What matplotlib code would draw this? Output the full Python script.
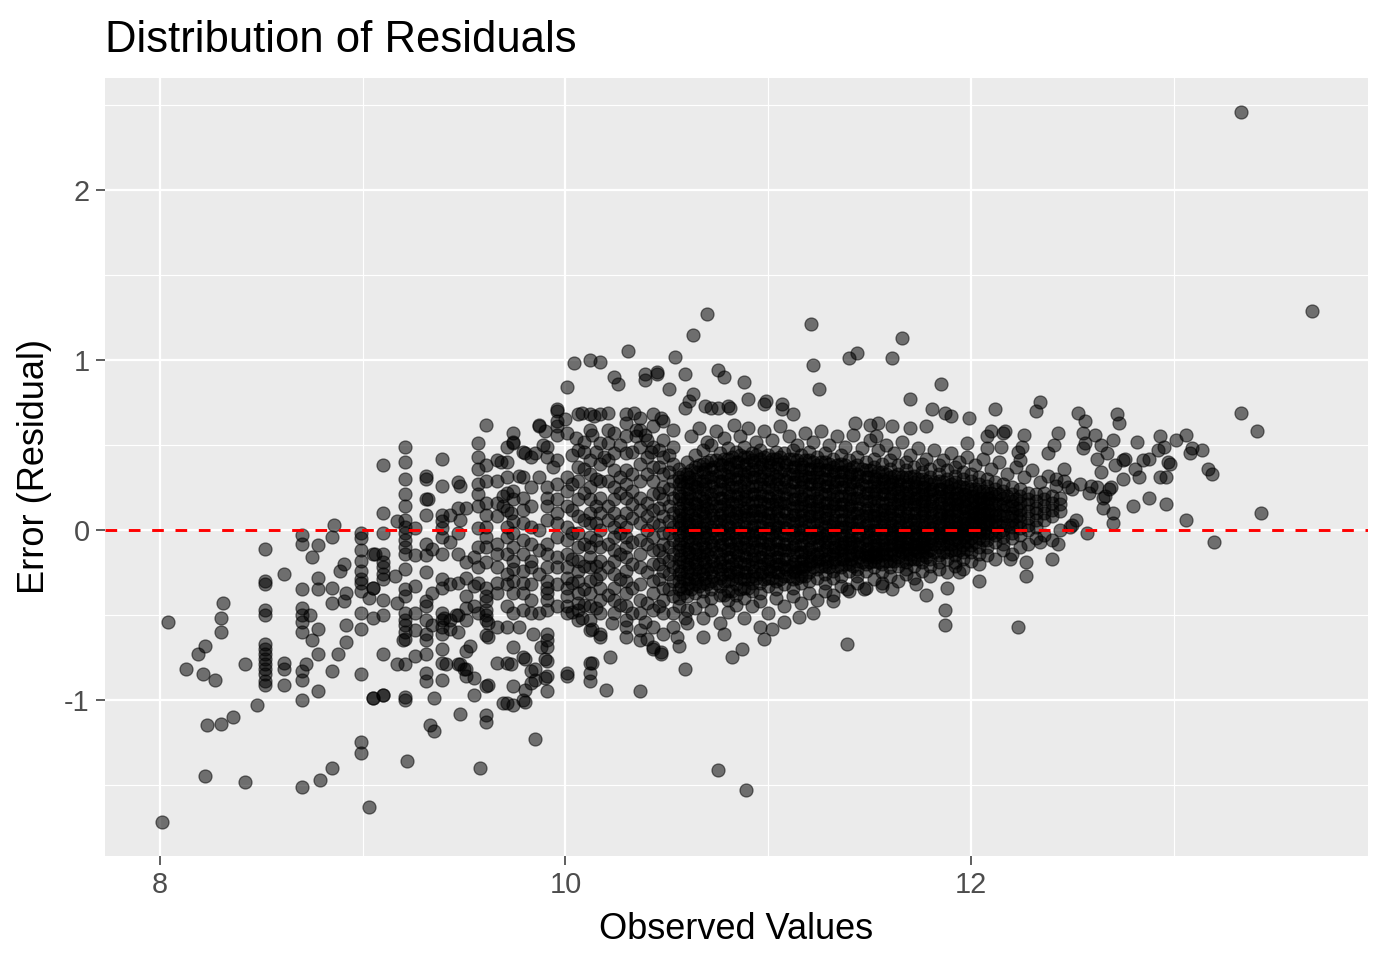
import matplotlib.pyplot as plt

plt.rcParams['font.family'] = ['Liberation Sans', 'DejaVu Sans']
plt.rcParams['axes.unicode_minus'] = False

# residuals stacked at repeated observed values: (observed, [residuals])
stacks = [
    (8.52, [-0.11, -0.30, -0.32, -0.47, -0.50, -0.67, -0.70, -0.73, -0.76, -0.79, -0.82, -0.85, -0.89, -0.91]),
    (8.61, [-0.26, -0.78, -0.82, -0.91]),
    (8.70, [-0.03, -0.08, -0.35, -0.46, -0.50, -0.54, -0.60, -0.83, -0.88, -1.00, -1.51]),
    (8.78, [-0.09, -0.28, -0.35, -0.58, -0.73, -0.95]),
    (8.85, [-0.04, -0.34, -0.43, -0.83, -1.40]),
    (8.99, [-0.02, -0.05, -0.12, -0.18, -0.24, -0.29, -0.31, -0.36, -0.49, -0.58, -0.85, -1.25, -1.31]),
    (9.05, [-0.14, -0.34, -0.52, -0.99]),
    (9.10, [0.38, 0.10, -0.02, -0.14, -0.19, -0.22, -0.26, -0.29, -0.41, -0.50, -0.73, -0.97]),
    (9.21, [0.49, 0.40, 0.30, 0.21, 0.14, 0.06, 0.02, -0.02, -0.06, -0.10, -0.14, -0.23, -0.35, -0.39,
            -0.49, -0.53, -0.56, -0.60, -0.64, -0.79, -0.98, -1.00]),
    (9.26, [0.01, -0.15, -0.33, -0.49, -0.59, -0.74]),
    (9.31, [0.32, 0.30, 0.18, 0.09, -0.08, -0.15, -0.25, -0.42, -0.45, -0.53, -0.61, -0.65, -0.73, -0.84, -0.89]),
    (9.39, [0.42, 0.26, 0.09, 0.05, 0.01, -0.04, -0.14, -0.29, -0.34, -0.49, -0.53, -0.57, -0.61, -0.70, -0.78, -0.88]),
    (9.47, [0.28, 0.13, -0.02, -0.14, -0.31, -0.50, -0.60, -0.79]),
    (9.51, [0.13, -0.19, -0.28, -0.39, -0.46, -0.53, -0.71, -0.82, -0.86]),
    (9.57, [0.51, 0.43, 0.36, 0.27, 0.21, 0.14, 0.01, -0.10, -0.22, -0.31, -0.49]),
    (9.61, [0.62, 0.38, 0.29, 0.16, 0.09, 0.02, -0.04, -0.10, -0.19, -0.34, -0.39, -0.42, -0.47, -0.50,
            -0.53, -0.62, -0.92, -1.09, -1.13]),
    (9.66, [0.41, 0.29, 0.16, 0.08, -0.08, -0.14, -0.22, -0.31, -0.37, -0.57, -0.78]),
    (9.71, [0.49, 0.40, 0.31, 0.22, 0.12, 0.02, -0.04, -0.14, -0.26, -0.32, -0.45, -0.57, -0.78, -1.02]),
    (9.74, [0.57, 0.52, 0.23, 0.18, -0.02, -0.10, -0.18, -0.23, -0.30, -0.37, -0.49, -0.69, -0.92]),
    (9.79, [0.46, 0.31, 0.19, 0.12, 0.04, -0.06, -0.14, -0.24, -0.31, -0.37, -0.47, -0.75, -1.00]),
    (9.83, [0.43, 0.25, 0.14, 0.02, -0.08, -0.18, -0.22, -0.32, -0.41, -0.49, -0.83, -0.90]),
    (9.87, [0.61, 0.31, 0.00, -0.12, -0.26, -0.49]),
    (9.91, [0.49, 0.43, 0.25, 0.19, 0.14, 0.06, -0.08, -0.14, -0.22, -0.30, -0.34, -0.37, -0.41, -0.47,
            -0.61, -0.65, -0.69, -0.77, -0.86, -0.95]),
    (9.96, [0.70, 0.64, 0.56, 0.41, 0.27, 0.18, 0.10, 0.04, -0.04, -0.16, -0.22, -0.32, -0.45]),
    (10.01, [0.84, 0.57, 0.31, 0.23, 0.14, 0.02, -0.06, -0.14, -0.22, -0.28, -0.34, -0.39, -0.45, -0.49, -0.84]),
    (10.03, [0.44, 0.27, 0.12, -0.02, -0.17, -0.31]),
    (10.06, [0.68, 0.47, 0.37, 0.29, 0.18, 0.08, -0.02, -0.10, -0.18, -0.24, -0.30, -0.37, -0.43, -0.47, -0.53]),
    (10.09, [0.52, 0.36, 0.22, 0.06, -0.08, -0.21, -0.35, -0.44]),
    (10.12, [0.68, 0.59, 0.41, 0.33, 0.25, 0.18, 0.10, 0.04, -0.04, -0.10, -0.16, -0.22, -0.30, -0.37,
             -0.45, -0.53, -0.59, -0.78, -0.84, -0.89]),
    (10.15, [0.46, 0.30, 0.14, 0.04, -0.06, -0.21, -0.29, -0.46]),
    (10.17, [0.68, 0.51, 0.39, 0.29, 0.19, 0.10, 0.00, -0.10, -0.18, -0.26, -0.34, -0.41, -0.49, -0.61]),
    (10.21, [0.59, 0.41, 0.29, 0.14, 0.06, -0.08, -0.22, -0.38]),
    (10.24, [0.57, 0.45, 0.35, 0.25, 0.18, 0.10, 0.02, -0.04, -0.12, -0.18, -0.26, -0.34, -0.41, -0.49]),
    (10.27, [0.50, 0.31, 0.22, 0.05, -0.02, -0.14, -0.29, -0.44]),
    (10.30, [0.68, 0.63, 0.55, 0.45, 0.35, 0.27, 0.19, 0.10, 0.02, -0.04, -0.10, -0.16, -0.24, -0.30,
             -0.37, -0.45, -0.53, -0.63]),
    (10.33, [0.46, 0.33, 0.23, 0.15, 0.07, -0.07, -0.20, -0.34, -0.49]),
    (10.37, [0.66, 0.59, 0.49, 0.39, 0.29, 0.19, 0.12, 0.04, -0.06, -0.14, -0.22, -0.32, -0.41, -0.49, -0.59, -0.65]),
    (10.40, [0.53, 0.43, 0.33, 0.16, 0.08, 0.00, -0.08, -0.25, -0.43]),
    (10.43, [0.68, 0.61, 0.49, 0.37, 0.29, 0.21, 0.12, 0.04, -0.04, -0.12, -0.20, -0.30, -0.37, -0.47, -0.57, -0.69]),
    (10.46, [0.47, 0.37, 0.22, 0.13, 0.03, -0.12, -0.20, -0.29, -0.45]),
    (10.48, [0.64, 0.53, 0.43, 0.33, 0.25, 0.18, 0.08, -0.02, -0.08, -0.16, -0.24, -0.34, -0.41, -0.49, -0.61]),
    (10.51, [0.44, 0.34, 0.24, 0.14, 0.05, -0.02, -0.10, -0.18, -0.26, -0.35]),
    (10.53, [0.59, 0.49, 0.39, 0.29, 0.19, 0.10, 0.02, -0.06, -0.14, -0.22, -0.30, -0.39, -0.49, -0.57]),
]

# the dense centre of the cloud, column by column
core = [
    (10.56, [0.36, 0.31, 0.27, 0.22, 0.18, 0.13, 0.09, 0.05, 0.01, -0.03, -0.08, -0.12, -0.17, -0.21, -0.26, -0.30, -0.35, -0.40, -0.45]),
    (10.60, [0.40, 0.33, 0.28, 0.24, 0.19, 0.15, 0.10, 0.06, 0.02, -0.02, -0.07, -0.11, -0.16, -0.20, -0.25, -0.29, -0.34, -0.39, -0.47]),
    (10.64, [0.44, 0.37, 0.30, 0.26, 0.21, 0.16, 0.12, 0.07, 0.03, -0.01, -0.05, -0.10, -0.14, -0.19, -0.23, -0.28, -0.32, -0.37]),
    (10.68, [0.47, 0.39, 0.34, 0.29, 0.24, 0.19, 0.14, 0.10, 0.05, 0.01, -0.04, -0.08, -0.13, -0.17, -0.22, -0.26, -0.31, -0.36, -0.42]),
    (10.72, [0.50, 0.41, 0.36, 0.31, 0.26, 0.21, 0.16, 0.12, 0.07, 0.02, -0.02, -0.07, -0.11, -0.16, -0.21, -0.25, -0.30, -0.35, -0.40]),
    (10.76, [0.45, 0.39, 0.34, 0.29, 0.24, 0.19, 0.14, 0.09, 0.05, 0.00, -0.05, -0.09, -0.14, -0.19, -0.23, -0.28, -0.33, -0.38]),
    (10.80, [0.48, 0.42, 0.37, 0.32, 0.27, 0.22, 0.17, 0.12, 0.08, 0.03, -0.02, -0.06, -0.11, -0.16, -0.21, -0.26, -0.30, -0.36, -0.41]),
    (10.84, [0.46, 0.40, 0.35, 0.30, 0.25, 0.20, 0.15, 0.10, 0.06, 0.01, -0.04, -0.08, -0.13, -0.18, -0.23, -0.27, -0.32, -0.38]),
    (10.88, [0.49, 0.43, 0.38, 0.33, 0.28, 0.23, 0.18, 0.13, 0.09, 0.04, -0.01, -0.05, -0.10, -0.15, -0.20, -0.25, -0.29, -0.34, -0.40]),
    (10.92, [0.45, 0.41, 0.36, 0.31, 0.26, 0.21, 0.16, 0.11, 0.07, 0.02, -0.03, -0.07, -0.12, -0.17, -0.22, -0.27, -0.31, -0.36]),
    (10.96, [0.47, 0.42, 0.37, 0.32, 0.27, 0.22, 0.17, 0.12, 0.08, 0.03, -0.02, -0.06, -0.11, -0.16, -0.21, -0.26, -0.31, -0.37]),
    (11.00, [0.44, 0.40, 0.35, 0.30, 0.25, 0.20, 0.15, 0.10, 0.06, 0.01, -0.04, -0.08, -0.13, -0.18, -0.23, -0.28, -0.33]),
    (11.04, [0.46, 0.42, 0.37, 0.32, 0.27, 0.22, 0.17, 0.13, 0.08, 0.03, -0.01, -0.06, -0.11, -0.16, -0.20, -0.25, -0.30, -0.35]),
    (11.08, [0.45, 0.40, 0.35, 0.30, 0.25, 0.21, 0.16, 0.11, 0.06, 0.02, -0.03, -0.08, -0.12, -0.17, -0.22, -0.27, -0.32]),
    (11.12, [0.47, 0.42, 0.37, 0.33, 0.28, 0.23, 0.18, 0.13, 0.09, 0.04, -0.01, -0.05, -0.10, -0.15, -0.20, -0.25, -0.29, -0.34]),
    (11.16, [0.44, 0.39, 0.35, 0.30, 0.25, 0.20, 0.15, 0.11, 0.06, 0.01, -0.03, -0.08, -0.13, -0.18, -0.22, -0.27, -0.31]),
    (11.20, [0.46, 0.41, 0.36, 0.31, 0.27, 0.22, 0.17, 0.12, 0.08, 0.03, -0.02, -0.06, -0.11, -0.16, -0.20, -0.25, -0.30]),
    (11.24, [0.43, 0.38, 0.34, 0.29, 0.24, 0.19, 0.14, 0.10, 0.05, 0.00, -0.04, -0.09, -0.14, -0.18, -0.23, -0.28]),
    (11.28, [0.45, 0.40, 0.35, 0.30, 0.26, 0.21, 0.16, 0.11, 0.07, 0.02, -0.03, -0.07, -0.12, -0.17, -0.21, -0.26, -0.31]),
    (11.32, [0.42, 0.37, 0.33, 0.28, 0.23, 0.18, 0.14, 0.09, 0.04, 0.00, -0.05, -0.10, -0.14, -0.19, -0.24, -0.28]),
    (11.36, [0.44, 0.39, 0.34, 0.30, 0.25, 0.20, 0.15, 0.11, 0.06, 0.02, -0.03, -0.08, -0.12, -0.17, -0.22, -0.27]),
    (11.40, [0.41, 0.36, 0.32, 0.27, 0.22, 0.18, 0.13, 0.08, 0.04, -0.01, -0.06, -0.10, -0.15, -0.20, -0.24]),
    (11.44, [0.43, 0.38, 0.33, 0.29, 0.24, 0.19, 0.15, 0.10, 0.05, 0.01, -0.04, -0.08, -0.13, -0.18, -0.23, -0.27]),
    (11.48, [0.40, 0.35, 0.31, 0.26, 0.22, 0.17, 0.12, 0.08, 0.03, -0.01, -0.06, -0.11, -0.15, -0.20, -0.24]),
    (11.52, [0.42, 0.37, 0.32, 0.28, 0.23, 0.19, 0.14, 0.09, 0.05, 0.00, -0.04, -0.09, -0.13, -0.18, -0.22]),
    (11.56, [0.39, 0.34, 0.30, 0.25, 0.21, 0.16, 0.12, 0.07, 0.03, -0.02, -0.06, -0.11, -0.15, -0.20, -0.25]),
    (11.60, [0.41, 0.36, 0.31, 0.27, 0.22, 0.18, 0.13, 0.09, 0.04, 0.00, -0.05, -0.09, -0.14, -0.18, -0.22]),
    (11.64, [0.38, 0.33, 0.29, 0.24, 0.20, 0.15, 0.11, 0.06, 0.02, -0.03, -0.07, -0.12, -0.16, -0.21]),
    (11.68, [0.40, 0.35, 0.31, 0.26, 0.22, 0.17, 0.13, 0.08, 0.04, -0.01, -0.05, -0.10, -0.14, -0.19, -0.23]),
    (11.72, [0.37, 0.32, 0.28, 0.24, 0.19, 0.15, 0.10, 0.06, 0.01, -0.03, -0.08, -0.12, -0.17, -0.21]),
    (11.76, [0.39, 0.34, 0.30, 0.25, 0.21, 0.17, 0.12, 0.08, 0.03, -0.01, -0.06, -0.10, -0.15, -0.19]),
    (11.80, [0.36, 0.31, 0.27, 0.23, 0.18, 0.14, 0.10, 0.05, 0.01, -0.04, -0.08, -0.12, -0.17, -0.21]),
    (11.84, [0.38, 0.33, 0.29, 0.24, 0.20, 0.16, 0.11, 0.07, 0.03, -0.02, -0.06, -0.10, -0.15, -0.19]),
    (11.88, [0.35, 0.30, 0.26, 0.22, 0.18, 0.13, 0.09, 0.05, 0.00, -0.04, -0.08, -0.13, -0.17]),
    (11.92, [0.37, 0.32, 0.28, 0.24, 0.19, 0.15, 0.11, 0.06, 0.02, -0.02, -0.06, -0.11, -0.15, -0.19]),
    (11.96, [0.34, 0.30, 0.25, 0.21, 0.17, 0.13, 0.08, 0.04, 0.00, -0.04, -0.09, -0.13, -0.17]),
    (12.00, [0.33, 0.29, 0.24, 0.20, 0.16, 0.12, 0.08, 0.04, -0.01, -0.05, -0.09, -0.13]),
    (12.04, [0.31, 0.27, 0.23, 0.19, 0.15, 0.11, 0.07, 0.03, -0.01, -0.05, -0.10, -0.14]),
    (12.08, [0.30, 0.26, 0.22, 0.18, 0.14, 0.10, 0.06, 0.02, -0.02, -0.06, -0.10]),
    (12.12, [0.28, 0.24, 0.20, 0.16, 0.12, 0.08, 0.05, 0.01, -0.03, -0.07]),
    (12.16, [0.27, 0.23, 0.19, 0.15, 0.12, 0.08, 0.04, 0.00, -0.04, -0.08]),
    (12.20, [0.25, 0.21, 0.17, 0.14, 0.10, 0.06, 0.02, -0.02, -0.05]),
    (12.24, [0.24, 0.20, 0.16, 0.12, 0.09, 0.05, 0.01, -0.03]),
    (12.28, [0.22, 0.18, 0.15, 0.11, 0.07, 0.03, 0.00]),
    (12.32, [0.21, 0.17, 0.13, 0.10, 0.06, 0.02]),
    (12.36, [0.22, 0.18, 0.14, 0.10, 0.06]),
    (12.40, [0.20, 0.16, 0.12, 0.08]),
    (12.44, [0.19, 0.15, 0.11]),
]

# more points packed between the core columns
core_inner = [
    (10.58, [0.33, 0.25, 0.16, 0.07, -0.01, -0.10, -0.19, -0.28, -0.37]),
    (10.62, [0.35, 0.27, 0.18, 0.09, 0.00, -0.08, -0.17, -0.26, -0.35]),
    (10.66, [0.38, 0.29, 0.20, 0.11, 0.02, -0.06, -0.15, -0.24, -0.33]),
    (10.70, [0.40, 0.31, 0.22, 0.13, 0.04, -0.05, -0.14, -0.23, -0.32]),
    (10.74, [0.41, 0.32, 0.23, 0.14, 0.05, -0.04, -0.13, -0.22, -0.31]),
    (10.78, [0.42, 0.33, 0.24, 0.15, 0.06, -0.03, -0.12, -0.21, -0.30, -0.38]),
    (10.82, [0.43, 0.34, 0.25, 0.16, 0.07, -0.02, -0.11, -0.20, -0.29, -0.36]),
    (10.86, [0.44, 0.35, 0.26, 0.17, 0.08, -0.01, -0.10, -0.19, -0.28, -0.35]),
    (10.90, [0.43, 0.34, 0.25, 0.16, 0.07, -0.02, -0.11, -0.20, -0.29, -0.34]),
    (10.94, [0.44, 0.35, 0.26, 0.17, 0.08, -0.01, -0.10, -0.19, -0.28]),
    (10.98, [0.43, 0.34, 0.25, 0.16, 0.07, -0.02, -0.11, -0.20, -0.29]),
    (11.02, [0.42, 0.33, 0.24, 0.15, 0.06, -0.03, -0.12, -0.21, -0.28]),
    (11.06, [0.43, 0.34, 0.25, 0.16, 0.07, -0.02, -0.11, -0.20, -0.29]),
    (11.10, [0.42, 0.33, 0.24, 0.15, 0.06, -0.03, -0.12, -0.21, -0.27]),
    (11.14, [0.41, 0.32, 0.23, 0.14, 0.05, -0.04, -0.13, -0.22, -0.28]),
    (11.18, [0.41, 0.32, 0.23, 0.14, 0.05, -0.04, -0.13, -0.21, -0.27]),
    (11.22, [0.40, 0.31, 0.22, 0.13, 0.04, -0.05, -0.14, -0.22]),
    (11.26, [0.40, 0.31, 0.22, 0.13, 0.04, -0.05, -0.13, -0.21]),
    (11.30, [0.39, 0.30, 0.21, 0.12, 0.03, -0.06, -0.14, -0.22]),
    (11.34, [0.38, 0.29, 0.20, 0.11, 0.02, -0.06, -0.13, -0.21]),
    (11.38, [0.38, 0.29, 0.20, 0.11, 0.02, -0.07, -0.14, -0.20]),
    (11.42, [0.37, 0.28, 0.19, 0.10, 0.01, -0.07, -0.14, -0.21]),
    (11.46, [0.36, 0.27, 0.18, 0.09, 0.01, -0.07, -0.14, -0.19]),
    (11.50, [0.35, 0.26, 0.17, 0.09, 0.00, -0.07, -0.15, -0.19]),
    (11.54, [0.34, 0.26, 0.17, 0.08, 0.00, -0.08, -0.14, -0.19]),
    (11.58, [0.33, 0.25, 0.16, 0.08, 0.00, -0.08, -0.14, -0.18]),
    (11.62, [0.32, 0.24, 0.16, 0.07, -0.01, -0.08, -0.14, -0.18]),
    (11.66, [0.31, 0.23, 0.15, 0.07, -0.01, -0.08, -0.13, -0.18]),
    (11.70, [0.31, 0.23, 0.15, 0.06, -0.01, -0.08, -0.14, -0.17]),
    (11.74, [0.30, 0.22, 0.14, 0.06, -0.02, -0.08, -0.13, -0.17]),
    (11.78, [0.29, 0.21, 0.14, 0.06, -0.02, -0.08, -0.13, -0.16]),
    (11.82, [0.28, 0.21, 0.13, 0.05, -0.02, -0.08, -0.13]),
    (11.86, [0.28, 0.20, 0.13, 0.05, -0.02, -0.08, -0.13]),
    (11.90, [0.27, 0.19, 0.12, 0.05, -0.02, -0.08, -0.12]),
    (11.94, [0.26, 0.19, 0.12, 0.04, -0.02, -0.07, -0.12]),
    (11.98, [0.25, 0.18, 0.11, 0.04, -0.02, -0.07, -0.11]),
    (12.02, [0.24, 0.17, 0.10, 0.04, -0.02, -0.07]),
    (12.06, [0.23, 0.16, 0.10, 0.04, -0.02, -0.06]),
    (12.10, [0.22, 0.16, 0.09, 0.03, -0.02]),
    (12.14, [0.21, 0.15, 0.09, 0.03, -0.01]),
    (12.18, [0.20, 0.14, 0.08, 0.03]),
    (12.22, [0.18, 0.13, 0.08, 0.03]),
]

# the saturated middle of the core
core_deep = [
    (10.57, [0.29, 0.20, 0.11, 0.03, -0.06, -0.15, -0.24, -0.33]),
    (10.61, [0.31, 0.22, 0.13, 0.04, -0.04, -0.13, -0.22, -0.31]),
    (10.65, [0.34, 0.25, 0.15, 0.06, -0.02, -0.11, -0.20, -0.29]),
    (10.69, [0.36, 0.27, 0.17, 0.08, -0.01, -0.10, -0.19, -0.28]),
    (10.73, [0.37, 0.28, 0.18, 0.09, 0.00, -0.09, -0.18, -0.27]),
    (10.77, [0.38, 0.29, 0.19, 0.10, 0.01, -0.08, -0.17, -0.26]),
    (10.81, [0.39, 0.30, 0.20, 0.11, 0.02, -0.07, -0.16, -0.25]),
    (10.85, [0.40, 0.31, 0.21, 0.12, 0.03, -0.06, -0.15, -0.24]),
    (10.89, [0.39, 0.30, 0.20, 0.11, 0.02, -0.07, -0.16, -0.25]),
    (10.93, [0.40, 0.31, 0.21, 0.12, 0.03, -0.06, -0.15, -0.24]),
    (10.97, [0.39, 0.30, 0.20, 0.11, 0.02, -0.07, -0.16, -0.25]),
    (11.01, [0.38, 0.29, 0.19, 0.10, 0.01, -0.08, -0.17, -0.24]),
    (11.05, [0.39, 0.30, 0.20, 0.11, 0.02, -0.07, -0.16, -0.25]),
    (11.09, [0.38, 0.29, 0.19, 0.10, 0.01, -0.08, -0.17, -0.23]),
    (11.13, [0.37, 0.28, 0.18, 0.09, 0.00, -0.09, -0.18, -0.24]),
    (11.17, [0.37, 0.28, 0.18, 0.09, 0.00, -0.09, -0.17, -0.23]),
    (11.21, [0.36, 0.27, 0.17, 0.08, -0.01, -0.10, -0.18]),
    (11.25, [0.36, 0.27, 0.17, 0.08, -0.01, -0.09, -0.17]),
    (11.29, [0.35, 0.26, 0.16, 0.07, -0.02, -0.10, -0.18]),
    (11.33, [0.34, 0.25, 0.15, 0.06, -0.02, -0.10, -0.17]),
    (11.37, [0.34, 0.25, 0.15, 0.06, -0.03, -0.10, -0.17]),
    (11.41, [0.33, 0.24, 0.14, 0.05, -0.03, -0.10, -0.17]),
    (11.45, [0.32, 0.23, 0.13, 0.05, -0.03, -0.10, -0.16]),
    (11.49, [0.31, 0.22, 0.13, 0.04, -0.04, -0.11, -0.16]),
    (11.53, [0.30, 0.22, 0.12, 0.04, -0.04, -0.11, -0.16]),
    (11.57, [0.29, 0.21, 0.12, 0.04, -0.04, -0.11]),
    (11.61, [0.28, 0.20, 0.11, 0.03, -0.04, -0.11]),
    (11.65, [0.27, 0.19, 0.11, 0.03, -0.05, -0.10]),
    (11.69, [0.27, 0.19, 0.10, 0.02, -0.05, -0.11]),
    (11.73, [0.26, 0.18, 0.10, 0.02, -0.05, -0.10]),
    (11.77, [0.25, 0.17, 0.10, 0.02, -0.05, -0.10]),
    (11.81, [0.24, 0.17, 0.09, 0.01, -0.05]),
    (11.85, [0.24, 0.16, 0.09, 0.01, -0.05]),
    (11.89, [0.23, 0.15, 0.08, 0.01, -0.05]),
    (11.93, [0.22, 0.15, 0.08, 0.01, -0.04]),
    (11.97, [0.21, 0.14, 0.07, 0.01, -0.04]),
    (12.01, [0.20, 0.13, 0.07, 0.01]),
    (12.05, [0.19, 0.13, 0.07, 0.01]),
    (12.09, [0.19, 0.12, 0.06]),
]

# single points away from the stacks and the core
loose_left = [
    (8.01, -1.72), (8.04, -0.54), (8.13, -0.82), (8.21, -0.85), (8.19, -0.73), (8.22, -0.68),
    (8.22, -1.45), (8.23, -1.15), (8.30, -1.14), (8.36, -1.10), (8.27, -0.88), (8.30, -0.52),
    (8.30, -0.60), (8.31, -0.43), (8.42, -0.79), (8.42, -1.48), (8.48, -1.03), (8.72, -0.79),
    (8.74, -0.50), (8.75, -0.16), (8.75, -0.65), (8.79, -1.47), (8.86, 0.03), (8.88, -0.73),
    (8.89, -0.24), (8.91, -0.20), (8.91, -0.42), (8.92, -0.37), (8.92, -0.56), (8.92, -0.66),
    (9.03, -1.63), (9.03, -0.40), (9.05, -0.34), (9.06, -0.14), (9.17, -0.43), (9.17, -0.79),
    (9.17, 0.05), (9.16, -0.27), (9.22, -1.36), (9.34, -0.11), (9.34, -0.37), (9.34, -0.56),
    (9.43, 0.09), (9.43, -0.07), (9.43, -0.32), (9.43, -0.53), (9.43, -0.58), (9.48, 0.26),
    (9.48, 0.06), (9.32, 0.18), (9.05, -0.99), (9.10, -0.97), (9.35, -0.99), (9.55, -0.97),
    (9.33, -1.15), (9.35, -1.18), (9.48, -1.08), (9.58, -1.40), (9.85, -1.23), (9.62, -0.91),
    (9.48, -0.79), (9.50, -0.82), (9.41, -0.79), (9.20, -0.65), (9.46, -0.50), (9.40, -0.52),
    (9.53, -0.68), (9.55, -0.16), (9.55, -0.33), (9.55, -0.45), (9.55, -0.87),
]

loose_mid = [
    (9.69, 0.20), (9.69, 0.14), (9.73, 0.10), (9.74, 0.05), (9.68, 0.40), (9.74, 0.51),
    (9.77, 0.32), (9.80, 0.45), (9.85, 0.45), (9.87, 0.62), (9.90, 0.58), (9.89, 0.50),
    (9.96, 0.61), (9.96, 0.71), (10.00, 0.65), (9.94, 0.37), (10.04, 0.98), (10.12, 1.00),
    (10.17, 0.99), (10.31, 1.05), (10.24, 0.90), (10.26, 0.86), (10.39, 0.92), (10.39, 0.88),
    (10.45, 0.92), (10.51, 0.83), (10.54, 1.02), (10.08, 0.69), (10.14, 0.67), (10.21, 0.69),
    (10.34, 0.69), (10.47, 0.66), (10.35, 0.59), (10.35, 0.55), (10.39, 0.56), (10.21, 0.51),
    (10.13, 0.56), (10.05, 0.54), (10.09, 0.46), (10.19, 0.43), (10.42, 0.46), (9.69, -1.02),
    (9.74, -1.03), (9.80, -1.01), (9.80, -0.94), (9.90, -0.87), (9.85, -0.82), (9.85, -0.88),
    (10.01, -0.86), (10.13, -0.78), (10.20, -0.94), (10.22, -0.75), (10.37, -0.95), (10.59, -0.82),
    (9.73, -0.79), (9.80, -0.76), (9.90, -0.76), (9.84, -0.61), (9.88, -0.69), (9.62, -0.63),
    (9.62, -0.55), (9.77, -0.57), (10.03, -0.48), (10.08, -0.52), (10.13, -0.58), (10.17, -0.63),
    (10.23, -0.55), (10.30, -0.57), (10.39, -0.54), (10.40, -0.64), (10.47, -0.73), (10.55, -0.63),
    (10.59, -0.52), (10.43, -0.70),
]

loose_right = [
    (10.70, 1.27), (10.63, 1.15), (11.21, 1.21), (11.22, 0.97), (11.25, 0.83), (11.40, 1.01),
    (11.44, 1.04), (11.66, 1.13), (11.61, 1.01), (11.85, 0.86), (11.70, 0.77), (11.81, 0.71),
    (11.87, 0.69), (11.90, 0.67), (11.99, 0.66), (12.12, 0.71), (10.59, 0.92), (10.45, 0.93),
    (10.75, 0.94), (10.78, 0.90), (10.88, 0.87), (10.90, 0.77), (10.63, 0.80), (10.61, 0.76),
    (10.59, 0.72), (10.69, 0.73), (10.72, 0.72), (10.75, 0.72), (10.80, 0.73), (10.81, 0.72),
    (10.99, 0.76), (10.98, 0.74), (11.07, 0.74), (11.07, 0.71), (11.12, 0.68), (11.43, 0.63),
    (11.50, 0.62), (11.54, 0.63), (11.61, 0.61), (11.70, 0.60), (11.53, 0.55), (11.78, 0.61),
    (11.98, 0.51), (12.08, 0.55), (12.10, 0.58), (12.16, 0.57), (12.15, 0.49), (12.08, 0.48),
    (12.24, 0.41), (11.39, -0.67), (11.87, -0.47), (11.87, -0.56), (12.04, -0.30), (11.78, -0.38),
    (11.88, -0.34), (11.94, -0.25), (11.73, -0.32), (11.56, -0.33), (11.61, -0.35), (11.47, -0.35),
    (11.39, -0.35), (11.32, -0.42), (11.22, -0.49), (11.15, -0.51), (11.08, -0.54), (11.02, -0.58),
    (10.96, -0.57), (10.98, -0.64), (10.87, -0.70), (10.82, -0.75), (10.78, -0.61), (10.68, -0.63),
    (10.56, -0.68), (10.47, -0.72), (10.75, -1.41), (10.89, -1.53),
    (13.33, 2.46), (13.68, 1.29), (13.33, 0.69), (13.41, 0.58), (13.43, 0.10), (13.20, -0.07),
    (13.17, 0.36), (13.19, 0.33), (13.06, 0.06), (13.06, 0.56), (13.01, 0.53), (13.09, 0.48),
    (13.08, 0.45), (13.14, 0.47), (12.93, 0.55), (12.95, 0.49), (12.92, 0.47), (12.97, 0.40),
    (12.98, 0.39), (12.88, 0.42), (12.85, 0.41), (12.93, 0.31), (12.96, 0.31), (12.88, 0.19),
    (12.96, 0.15), (12.80, 0.14), (12.82, 0.52), (12.81, 0.36), (12.83, 0.31), (12.72, 0.68),
    (12.73, 0.63), (12.70, 0.53), (12.76, 0.42), (12.75, 0.41), (12.71, 0.38), (12.75, 0.30),
    (12.64, 0.50), (12.67, 0.45), (12.62, 0.42), (12.64, 0.34), (12.53, 0.69), (12.56, 0.64),
    (12.55, 0.57), (12.61, 0.56), (12.56, 0.51), (12.55, 0.48), (12.69, 0.25), (12.68, 0.24),
    (12.65, 0.19), (12.65, 0.13), (12.70, 0.10), (12.70, 0.04), (12.59, 0.26), (12.57, -0.02),
    (12.48, 0.25), (12.52, 0.06), (12.49, 0.02), (12.46, 0.36), (12.42, 0.30), (12.41, 0.50),
    (12.43, 0.57), (12.38, 0.45), (12.34, 0.75), (12.32, 0.70), (12.26, 0.56), (12.17, 0.58),
    (12.25, 0.49), (12.23, 0.46), (12.43, -0.08), (12.40, -0.17), (12.34, -0.07), (12.27, -0.27),
    (12.27, -0.19), (12.19, -0.17), (12.23, -0.57),
]

# thinner fringe just above and below the core
fringe = [
    (10.62, 0.55), (10.66, 0.60), (10.70, 0.52), (10.74, 0.58), (10.78, 0.54), (10.83, 0.62),
    (10.86, 0.55), (10.90, 0.60), (10.94, 0.52), (10.98, 0.58), (11.02, 0.53), (11.06, 0.61),
    (11.10, 0.55), (11.14, 0.50), (11.18, 0.57), (11.22, 0.52), (11.26, 0.58), (11.30, 0.50),
    (11.34, 0.55), (11.38, 0.49), (11.42, 0.56), (11.46, 0.48), (11.50, 0.53), (11.54, 0.47),
    (11.58, 0.50), (11.62, 0.45), (11.66, 0.52), (11.70, 0.44), (11.74, 0.48), (11.78, 0.42),
    (11.82, 0.47), (11.86, 0.41), (11.90, 0.45), (11.94, 0.40), (11.98, 0.43), (12.02, 0.38),
    (12.06, 0.42), (12.10, 0.36), (12.14, 0.40), (12.18, 0.33), (12.22, 0.37), (12.26, 0.31),
    (12.30, 0.35), (12.34, 0.28), (12.38, 0.32), (12.42, 0.26), (12.46, 0.29), (12.50, 0.24),
    (12.54, 0.27), (12.58, 0.22), (12.62, 0.25), (12.66, 0.20),
    (10.60, -0.55), (10.64, -0.46), (10.68, -0.52), (10.72, -0.47), (10.76, -0.55), (10.80, -0.48),
    (10.84, -0.44), (10.88, -0.52), (10.92, -0.45), (10.96, -0.42), (11.00, -0.49), (11.04, -0.40),
    (11.08, -0.45), (11.12, -0.39), (11.16, -0.43), (11.20, -0.37), (11.24, -0.41), (11.28, -0.36),
    (11.32, -0.38), (11.36, -0.33), (11.40, -0.36), (11.44, -0.31), (11.48, -0.34), (11.52, -0.29),
    (11.56, -0.31), (11.60, -0.27), (11.64, -0.30), (11.68, -0.26), (11.72, -0.28), (11.76, -0.24),
    (11.80, -0.27), (11.84, -0.23), (11.88, -0.25), (11.92, -0.21), (11.96, -0.23), (12.00, -0.18),
    (12.04, -0.20), (12.08, -0.15), (12.12, -0.17), (12.16, -0.12), (12.20, -0.14), (12.24, -0.10),
    (12.28, -0.08), (12.32, -0.05), (12.36, -0.03), (12.40, -0.06), (12.44, 0.00), (12.50, 0.03),
]

xs, ys = [], []
for x, col in stacks + core + core_inner + core_deep:
    xs += [x] * len(col)
    ys += col
for x, y in loose_left + loose_mid + loose_right + fringe:
    xs.append(x)
    ys.append(y)

fig = plt.figure(figsize=(13.87, 9.65), dpi=100)
ax = fig.add_axes([105 / 1387, 1 - 856 / 965, 1263 / 1387, 778 / 965])
ax.set_facecolor('#EBEBEB')
for sp in ax.spines.values():
    sp.set_visible(False)

ax.set_xlim(7.729, 13.958)
ax.set_ylim(-1.918, 2.659)
ax.set_xticks([8, 10, 12])
ax.set_yticks([-1, 0, 1, 2])
ax.set_xticks([9, 11, 13], minor=True)
ax.set_yticks([-1.5, -0.5, 0.5, 1.5, 2.5], minor=True)
ax.grid(which='major', color='white', lw=1.6)
ax.grid(which='minor', color='white', lw=0.8)
ax.set_axisbelow(True)
ax.tick_params(which='minor', length=0)
ax.tick_params(which='major', length=6.6, width=1.1, color='#333333',
               labelcolor='#4D4D4D', labelsize=20.8, pad=4.5)

ax.scatter(xs, ys, s=88, facecolor='black', edgecolor='black',
           linewidths=0.9, alpha=0.53, zorder=2)
ax.axhline(0, color='red', lw=2.1, ls=(0, (4, 4)), zorder=3)

fig.text(105 / 1387, 1 - 52 / 965, 'Distribution of Residuals', fontsize=31.4,
         ha='left', va='baseline')
fig.text(736.5 / 1387, 1 - 939 / 965, 'Observed Values', fontsize=26,
         ha='center', va='baseline')
fig.text(35 / 1387, 1 - 467 / 965, 'Error (Residual)', fontsize=26,
         rotation=90, ha='center', va='center')

fig.savefig('out.png', dpi=100)
